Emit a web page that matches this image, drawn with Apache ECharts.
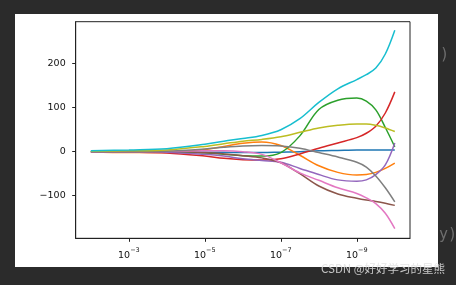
<!DOCTYPE html>
<html>
<head>
<meta charset="utf-8">
<script src="https://cdn.jsdelivr.net/npm/echarts@6/dist/echarts.min.js"></script>
<style>
html,body{margin:0;padding:0;background:#2b2b2b;}
#chart{width:456px;height:285px;}
</style>
</head>
<body>
<div id="chart"></div>
<script>
// alpha = 10^-e ; x axis shows exponent e (alpha decreasing to the right)
const alphaExponents = [2, 3, 4, 5, 5.5, 6, 6.5, 7, 7.5, 8, 8.5, 9, 9.25, 9.5, 9.75, 10];
const coefC0 = [1, 1, 0, -1, -1.5, -2, -2, -1, 0, 2, 3, 4, 4, 4, 4, 4];
const coefC1 = [0, -2, -2, 5, 12, 19, 22, 14, -8, -32, -47, -53, -52, -47, -38, -26];
const coefC2 = [0, 0, -1, -3, -6, -9, -10, -2, 36, 96, 117, 122, 115, 95, 55, 11];
const coefC3 = [0, -1, -3, -10, -15, -18, -19, -16, -5, 8, 20, 32, 42, 58, 88, 136];
const coefC4 = [0, 0, -1, -6, -10, -16, -20, -24, -38, -52, -64, -67, -64, -52, -30, 20];
const coefC5 = [0, 0, 1, -2, -5, -9, -14, -25, -50, -78, -96, -106, -110, -113, -117, -122];
const coefC6 = [0, 0, 1, 2, 2, 0, -6, -25, -48, -65, -82, -95, -105, -118, -140, -175];
const coefC7 = [0, 0, 1, 6, 10, 13, 14, 13, 8, -2, -12, -24, -35, -55, -82, -114];
const coefC8 = [1, 2, 4, 12, 18, 24, 28, 34, 44, 54, 60, 63, 63, 60, 54, 46];
const coefC9 = [2, 4, 7, 17, 24, 30, 37, 50, 75, 112, 143, 164, 175, 190, 222, 276];
const xTickValues = [3, 5, 7, 9];
const xTickExponents = ['\u22123', '\u22125', '\u22127', '\u22129'];
const yTickValues = [-100, 0, 100, 200];
const yTickLabels = ['\u2212100', '0', '100', '200'];

const allCoefs = [coefC0, coefC1, coefC2, coefC3, coefC4, coefC5, coefC6, coefC7, coefC8, coefC9];
const colors = ['#1f77b4', '#ff7f0e', '#2ca02c', '#d62728', '#9467bd', '#8c564b', '#e377c2', '#7f7f7f', '#bcbd22', '#17becf'];

const chart = echarts.init(document.getElementById('chart'), null, {renderer: 'canvas'});
const font = '"DejaVu Sans", sans-serif';
chart.setOption({
  backgroundColor: '#2b2b2b',
  animation: false,
  graphic: [
    {type: 'rect', z: -10, shape: {x: 15, y: 14, width: 423, height: 253}, style: {fill: '#ffffff'}},
    {type: 'text', left: 440, top: 48, style: {text: ')', fill: '#6e6e6e', font: '15px "DejaVu Sans Mono", monospace'}},
    {type: 'text', left: 439, top: 228, style: {text: 'y)', fill: '#6e6e6e', font: '15px "DejaVu Sans Mono", monospace'}},
    {type: 'text', left: 321, top: 263, style: {text: 'CSDN @好好学习的星熊', fill: 'rgba(225,225,225,0.85)', font: '11.5px "Noto Sans CJK SC", sans-serif'}}
  ],
  grid: {left: 75.7, right: 46, top: 21.7, bottom: 46.7, show: true, borderColor: '#222', borderWidth: 1, backgroundColor: 'transparent'},
  xAxis: {
    type: 'value', min: 1.6, max: 10.4,
    axisLine: {show: true, onZero: false, lineStyle: {color: '#222', width: 1}},
    axisTick: {show: true, customValues: xTickValues, length: 3.5, lineStyle: {color: '#222'}},
    axisLabel: {customValues: xTickValues, margin: 9, color: '#111', fontFamily: font,
      formatter: v => '{b|10}{s|' + (xTickExponents[xTickValues.indexOf(v)] || '') + '}',
      rich: {
        b: {fontSize: 9.5, fontFamily: font, color: '#111', lineHeight: 13, verticalAlign: 'bottom'},
        s: {fontSize: 6.5, fontFamily: font, color: '#111', lineHeight: 13, verticalAlign: 'top'}
      }},
    splitLine: {show: false}
  },
  yAxis: {
    type: 'value', min: -196.8, max: 295.5,
    axisLine: {show: true, onZero: false, lineStyle: {color: '#222', width: 1}},
    axisTick: {show: true, customValues: yTickValues, length: 3.5, lineStyle: {color: '#222'}},
    axisLabel: {customValues: yTickValues, margin: 10, color: '#111', fontSize: 9.5, fontFamily: font,
      formatter: v => yTickLabels[yTickValues.indexOf(v)] || ''},
    splitLine: {show: false}
  },
  series: allCoefs.map((vals, i) => ({
    type: 'line',
    data: alphaExponents.map((e, j) => [e, vals[j]]),
    smooth: 0.35,
    showSymbol: false,
    lineStyle: {color: colors[i], width: 1.5},
    z: 2 + i
  }))
});
</script>
</body>
</html>
